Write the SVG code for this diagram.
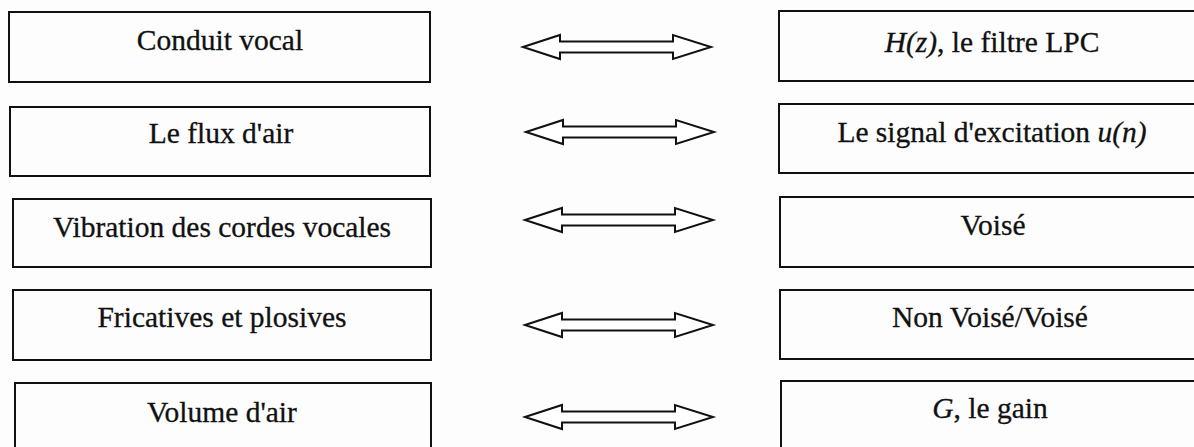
<svg xmlns="http://www.w3.org/2000/svg" xmlns:xlink="http://www.w3.org/1999/xlink" width="1194" height="447" viewBox="0 0 1194 447">
<style>
.box{fill:none;stroke:#111;stroke-width:2}
.t{font-family:"Liberation Serif","Times New Roman",serif;font-size:29.5px;fill:#111;stroke:#111;stroke-width:0.3;text-anchor:middle}
.i{font-style:italic}
.arr{fill:#fff;stroke:#111;stroke-width:2;stroke-linejoin:miter}
</style>
<defs>
<path id="dbl" class="arr" d="M0,0 L37,-12 L37,-5.5 L150,-5.5 L150,-12 L188,0 L150,12 L150,5.5 L37,5.5 L37,12 Z"/>
</defs>
<rect width="1194" height="447" fill="#fdfdfd"/>
<g id="l1"><rect class="box" x="9" y="12" width="421" height="70"/><text class="t" x="220" y="50">Conduit vocal</text></g>
<g id="l2"><rect class="box" x="10" y="107" width="420" height="69"/><text class="t" x="221" y="143">Le flux d'air</text></g>
<g id="l3"><rect class="box" x="13" y="199" width="418" height="68"/><text class="t" x="222" y="237">Vibration des cordes vocales</text></g>
<g id="l4"><rect class="box" x="13" y="290" width="418" height="70"/><text class="t" x="222" y="327">Fricatives et plosives</text></g>
<g id="l5"><rect class="box" x="15" y="383" width="416" height="80"/><text class="t" x="222" y="422">Volume d'air</text></g>
<g id="r1"><rect class="box" x="779" y="11" width="430" height="70"/><text class="t" x="992" y="52"><tspan class="i">H(z)</tspan>, le filtre LPC</text></g>
<g id="r2"><rect class="box" x="779" y="104" width="430" height="69"/><text class="t" x="992" y="142">Le signal d'excitation <tspan class="i">u(n)</tspan></text></g>
<g id="r3"><rect class="box" x="780" y="197" width="430" height="70"/><text class="t" x="993" y="235">Voisé</text></g>
<g id="r4"><rect class="box" x="780" y="290" width="430" height="69"/><text class="t" x="990" y="327">Non Voisé/Voisé</text></g>
<g id="r5"><rect class="box" x="781" y="381" width="430" height="80"/><text class="t" x="990" y="418"><tspan class="i">G</tspan>, le gain</text></g>
<g id="connectors">
<use xlink:href="#dbl" x="523" y="47"/>
<use xlink:href="#dbl" x="526" y="132"/>
<use xlink:href="#dbl" x="525" y="220"/>
<use xlink:href="#dbl" x="525" y="325"/>
<use xlink:href="#dbl" x="525" y="417"/>
</g>
</svg>
